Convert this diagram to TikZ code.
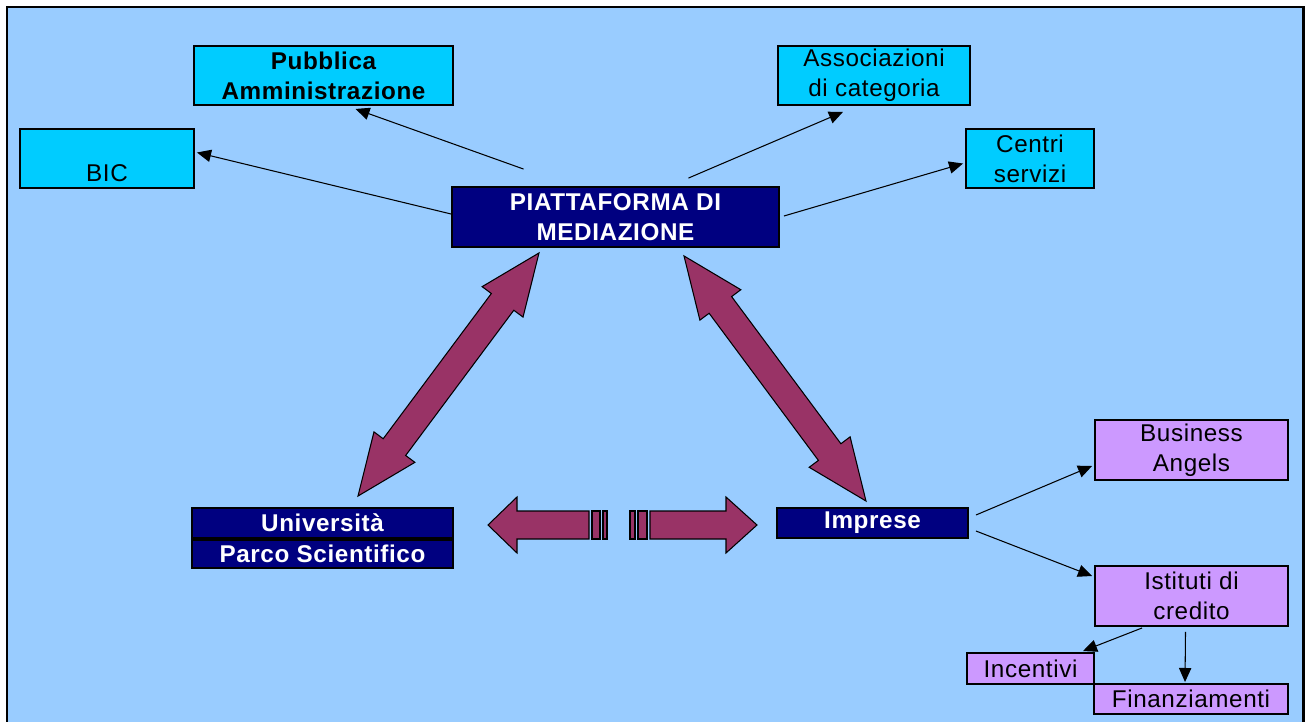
\documentclass[tikz,border=0pt]{standalone}
\usepackage{fontspec}
\setmainfont{Liberation Sans}
\usetikzlibrary{arrows.meta,calc,positioning}
\tikzstyle{arrow} = [line width=0.6pt, -{Triangle[length=8pt,width=7pt]}]
\definecolor{sfondo}{HTML}{99CCFF}
\definecolor{ciano}{HTML}{00CCFF}
\definecolor{blu}{HTML}{000080}
\definecolor{lilla}{HTML}{CC99FF}
\definecolor{prugna}{HTML}{993366}

\begin{document}
\begin{tikzpicture}[x=0.02cm,y=-0.02cm]
\tikzset{box/.style={draw=black,line width=1.1pt,inner sep=0pt,align=center,
  font=\fontsize{13.8}{17}\selectfont\addfontfeatures{LetterSpace=2.5}},
  cyanbox/.style={box,fill=ciano},
  navybox/.style={box,fill=blu,text=white,font=\fontsize{13.8}{17}\selectfont\bfseries\addfontfeatures{LetterSpace=2.5}},
  lilacbox/.style={box,fill=lilla},
  fatarrow/.style={draw=black,line width=0.6pt,fill=prugna,
  to path={let \p1=(\tikztostart), \p2=(\tikztotarget), \n1={atan2(\y2-\y1,\x2-\x1)} in
   -- ($(\p1)+(\n1:1.22cm)+(\n1+90:0.51cm)$)
   -- ($(\p1)+(\n1:1.22cm)+(\n1+90:0.28cm)$)
   -- ($(\p2)+(\n1:-1.22cm)+(\n1+90:0.28cm)$)
   -- ($(\p2)+(\n1:-1.22cm)+(\n1+90:0.51cm)$)
   -- (\p2)
   -- ($(\p2)+(\n1:-1.22cm)+(\n1-90:0.51cm)$)
   -- ($(\p2)+(\n1:-1.22cm)+(\n1-90:0.28cm)$)
   -- ($(\p1)+(\n1:1.22cm)+(\n1-90:0.28cm)$)
   -- ($(\p1)+(\n1:1.22cm)+(\n1-90:0.51cm)$)
   -- cycle}},
  stripe/.style={draw=black,line width=0.6pt,fill=prugna}}
\useasboundingbox (0,0) rectangle (1307,722);
\fill[sfondo] (6,6) rectangle (1304,722);
\draw[line width=1.6pt] (7,722) -- (7,7) -- (1303.5,7) -- (1303.5,722);

\node[cyanbox,minimum width=5.18cm,minimum height=1.18cm,font=\fontsize{13.8}{17}\selectfont\bfseries\addfontfeatures{LetterSpace=2.5}] (pa) at (323.5,75.5) {Pubblica\\Amministrazione};
\node[cyanbox,minimum width=3.48cm,minimum height=1.18cm,text height=28pt,text depth=2pt] (bic) at (107,158.5) {BIC};
\node[cyanbox,minimum width=3.84cm,minimum height=1.18cm] (assoc) at (874,75.5) {Associazioni\\di categoria};
\node[cyanbox,minimum width=2.56cm,minimum height=1.18cm] (centri) at (1030,158.5) {Centri\\servizi};
\node[navybox,minimum width=6.54cm,minimum height=1.2cm] (piatt) at (615.5,217) {PIATTAFORMA DI\\MEDIAZIONE};

\node[navybox,minimum width=5.22cm,minimum height=0.6cm] (univ) at (322.5,523) {Università};
\node[navybox,minimum width=5.22cm,minimum height=0.56cm,below=0pt of univ] (parco) {Parco Scientifico};
\node[navybox,minimum width=3.82cm,minimum height=0.6cm] (imprese) at (872.5,523) {Imprese};

\node[lilacbox,minimum width=3.86cm,minimum height=1.2cm] (angels) at (1191.5,450) {Business\\Angels};
\node[lilacbox,minimum width=3.86cm,minimum height=1.2cm] (istituti) at (1191.5,596) {Istituti di\\credito};
\node[lilacbox,minimum width=2.54cm,minimum height=0.62cm] (incentivi) at (1030.5,668.5) {Incentivi};
\node[lilacbox,minimum width=3.88cm,minimum height=0.6cm] (finanz) at (1191,699) {Finanziamenti};

\draw[arrow] ($(piatt.north)+(-92,-17)$) -- ($(pa.south)+(32,3)$);
\draw[arrow] ($(piatt.west)+(0,-3)$) -- ($(bic.east)+(2,-6)$);
\draw[arrow] ($(piatt.north)+(73,-8)$) -- ($(assoc.south)+(-31,6)$);
\draw[arrow] ($(piatt.east)+(4,-1)$) -- ($(centri.west)+(-2,5)$);
\draw[arrow] ($(imprese.east)+(7,-8)$) -- ($(angels.west)+(-2,16)$);
\draw[arrow] ($(imprese.east)+(7,8)$) -- ($(istituti.west)+(-2,-20)$);
\draw[arrow] ($(istituti.south west)+(48,1)$) -- ($(incentivi.north east)+(-12,-1)$);
\draw[arrow] ($(istituti.south)+(-6,5)$) -- ($(finanz.north)+(-6,-1)$);

\draw[fatarrow] ($(univ.north)+(35.5,-11)$) to ($(piatt.south)+(-76.5,5)$);
\draw[fatarrow] ($(piatt.south)+(68.5,8)$) to ($(imprese.north)+(-6.5,-6)$);

\coordinate (centro) at ($(univ.east)!0.5!(imprese.west)$);
\begin{scope}[shift={(centro)}]
\draw[stripe] (-127,2) -- (-98,-26) -- (-98,-12) -- (-26,-12) -- (-26,16) -- (-98,16) -- (-98,30) -- cycle;
\draw[stripe] (-23,-12) rectangle (-15,16);
\draw[stripe] (-12,-12) rectangle (-8,16);
\draw[stripe] (142,2) -- (111,-26) -- (111,-12) -- (35,-12) -- (35,16) -- (111,16) -- (111,30) -- cycle;
\draw[stripe] (15,-12) rectangle (20,16);
\draw[stripe] (23,-12) rectangle (32,16);
\end{scope}
\end{tikzpicture}
\end{document}
